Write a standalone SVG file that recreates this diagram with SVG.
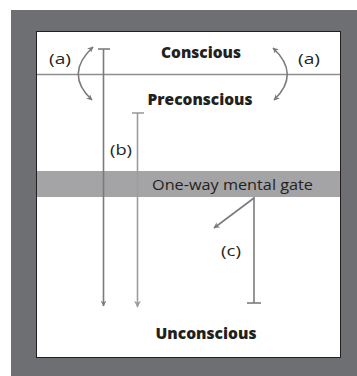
<svg xmlns="http://www.w3.org/2000/svg" width="357" height="376" viewBox="0 0 357 376">
<defs>
<style>
.bold{font-family:"Open Sans","Liberation Sans",sans-serif;font-weight:800;font-size:15px;fill:#231f20;text-anchor:middle}
.reg{font-family:"Open Sans","Liberation Sans",sans-serif;font-size:15px;fill:#231f20;text-anchor:middle}
.ln{stroke:#7b7b7d;stroke-width:1.6;fill:none}
.ln2{stroke:#9d9d9f;stroke-width:1.6;fill:none}
</style>
<marker id="ah" viewBox="0 0 10 10" refX="9" refY="5" markerWidth="6" markerHeight="6" orient="auto-start-reverse" markerUnits="userSpaceOnUse">
<path d="M0,0 L10,5 L0,10 L3,5 Z" fill="#7b7b7d"/>
</marker>
<marker id="ah2" viewBox="0 0 10 10" refX="9" refY="5" markerWidth="7" markerHeight="7" orient="auto" markerUnits="userSpaceOnUse">
<path d="M0,0 L10,5 L0,10 L3,5 Z" fill="#9d9d9f"/>
</marker>
</defs>
<rect x="0" y="0" width="357" height="376" fill="#ffffff"/>
<rect x="11" y="10" width="346" height="366" fill="#6e6f73"/>
<rect x="36.5" y="31.5" width="304" height="326" fill="#ffffff" stroke="#231f20" stroke-width="1"/>
<g id="conscious">
<line x1="37" y1="74.5" x2="340" y2="74.5" stroke="#8f8f91" stroke-width="1.6"/>
<text class="bold" x="201" y="58" textLength="80" lengthAdjust="spacingAndGlyphs">Conscious</text>
</g>
<g id="preconscious">
<text class="bold" x="200" y="105" textLength="105" lengthAdjust="spacingAndGlyphs">Preconscious</text>
</g>
<g id="gate">
<rect x="37" y="171" width="303" height="26" fill="#a4a4a6"/>
<text class="reg" x="232.5" y="190" fill="#333" textLength="161" lengthAdjust="spacingAndGlyphs">One-way mental gate</text>
</g>
<g id="unconscious">
<text class="bold" x="206" y="339" textLength="101" lengthAdjust="spacingAndGlyphs">Unconscious</text>
</g>
<g id="connectors">
<path class="ln" d="M93,47 Q64,74 92,100" marker-start="url(#ah)" marker-end="url(#ah)"/>
<path class="ln" d="M273,48 Q301,74 274,100" marker-start="url(#ah)" marker-end="url(#ah)"/>
<line class="ln" x1="103.5" y1="49" x2="103.5" y2="306" marker-end="url(#ah)"/>
<line class="ln" x1="98" y1="49" x2="110" y2="49"/>
<line class="ln2" x1="137.5" y1="113" x2="137.5" y2="307" marker-end="url(#ah2)"/>
<line class="ln2" x1="132" y1="113" x2="144" y2="113"/>
<line class="ln" x1="254" y1="197" x2="254" y2="303"/>
<line class="ln" x1="247" y1="303" x2="261" y2="303"/>
<line class="ln" x1="254" y1="198" x2="214" y2="228" marker-end="url(#ah)"/>
</g>
<g id="labels">
<text class="reg" x="60" y="64" textLength="22" lengthAdjust="spacingAndGlyphs">(a)</text>
<text class="reg" x="309" y="64" textLength="22" lengthAdjust="spacingAndGlyphs">(a)</text>
<text class="reg" x="121" y="155" textLength="22" lengthAdjust="spacingAndGlyphs">(b)</text>
<text class="reg" x="231" y="256" textLength="20" lengthAdjust="spacingAndGlyphs">(c)</text>
</g>
</svg>
